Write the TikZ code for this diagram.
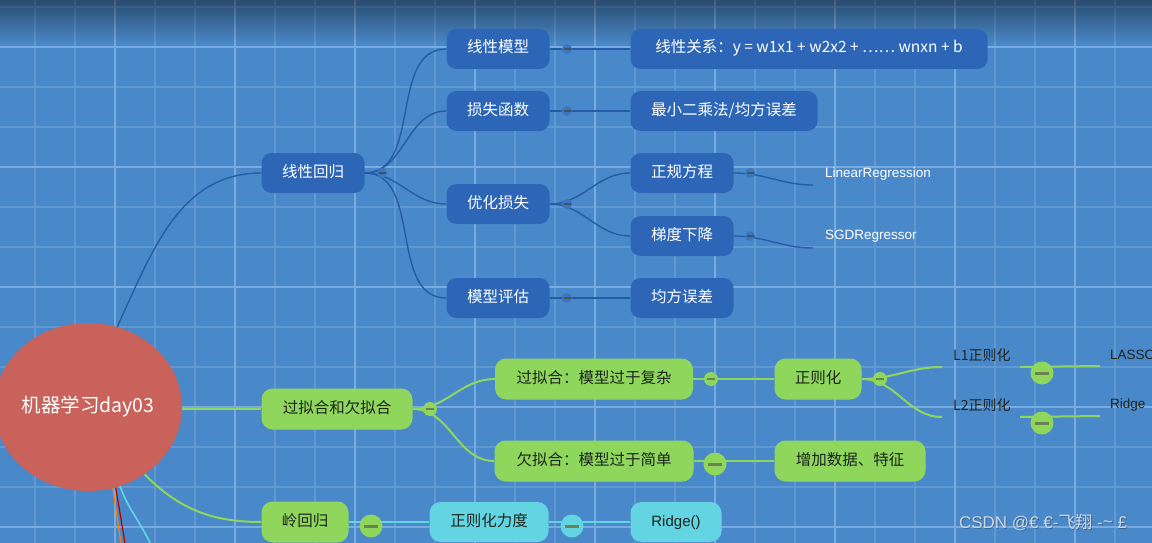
\documentclass[tikz,border=0pt]{standalone}
\usepackage{fontspec}
\setmainfont{Noto Sans CJK SC}
\newfontfamily\lat{Liberation Sans}
\usetikzlibrary{shapes.geometric}
\definecolor{bg}{RGB}{74,137,201}
\definecolor{gridminor}{RGB}{96,152,210}
\definecolor{gridmajor}{RGB}{120,172,224}
\definecolor{nblue}{RGB}{45,102,182}
\definecolor{lblue}{RGB}{38,92,165}
\definecolor{mblue}{RGB}{60,118,192}
\definecolor{ngreen}{RGB}{142,214,92}
\definecolor{ncyan}{RGB}{98,212,226}
\definecolor{rootred}{RGB}{200,98,90}
\definecolor{txtdark}{RGB}{30,36,30}
\definecolor{dashg}{RGB}{108,130,80}
\definecolor{dashb}{RGB}{70,80,95}
\definecolor{wm}{RGB}{205,215,225}
\begin{document}
\begin{tikzpicture}[x=1pt,y=-1pt,
  nfont/.style={font=\fontsize{15.5}{17}\selectfont, text height=11pt, text depth=3pt},
  bnode/.style={rounded corners=10pt, fill=nblue, text=white, minimum height=40pt, inner sep=0pt, nfont},
  gnode/.style={rounded corners=11pt, fill=ngreen, text=txtdark, minimum height=41pt, inner sep=0pt, nfont},
  cnode/.style={rounded corners=11pt, fill=ncyan, text=txtdark, minimum height=40pt, inner sep=0pt, nfont},
  leafw/.style={text=white, inner sep=0pt, font=\lat\fontsize{13.5}{15}\selectfont},
  leafd/.style={text=txtdark, inner sep=0pt, font=\fontsize{14}{15}\selectfont},
  bline/.style={draw=lblue, line width=1.4pt},
  gline/.style={draw=ngreen, line width=2pt},
  cline/.style={draw=ncyan, line width=2pt},
  bmark/.style={circle, fill=mblue, minimum size=10pt, inner sep=0pt,
    path picture={\draw[dashb, line width=1.6pt] ([xshift=-3.5pt]path picture bounding box.center) -- ([xshift=3.5pt]path picture bounding box.center);}},
  gmarks/.style={circle, fill=ngreen, minimum size=14pt, inner sep=0pt,
    path picture={\draw[dashg, line width=2pt] ([xshift=-4pt]path picture bounding box.center) -- ([xshift=4pt]path picture bounding box.center);}},
  gmarkl/.style={circle, fill=ngreen, minimum size=23pt, inner sep=0pt,
    path picture={\draw[dashg, line width=3pt] ([xshift=-7pt]path picture bounding box.center) -- ([xshift=7pt]path picture bounding box.center);}},
  cmarkl/.style={circle, fill=ncyan, minimum size=23pt, inner sep=0pt,
    path picture={\draw[dashg, line width=3pt] ([xshift=-7pt]path picture bounding box.center) -- ([xshift=7pt]path picture bounding box.center);}},
]
\useasboundingbox (0,0) rectangle (1152,543);
% background
\fill[bg] (0,0) rectangle (1152,543);
\foreach \k in {0,...,28} {\draw[gridminor, line width=1.1pt] (35+40*\k,0) -- (35+40*\k,543);}
\foreach \k in {0,...,13} {\draw[gridminor, line width=1.1pt] (0,7+40*\k) -- (1152,7+40*\k);}
\foreach \k in {0,...,9} {\draw[gridmajor, line width=1.5pt] (115+120*\k,0) -- (115+120*\k,543);}
\foreach \k in {0,...,4} {\draw[gridmajor, line width=1.5pt] (0,47+120*\k) -- (1152,47+120*\k);}
\foreach \i in {0,...,21} {\fill[black, opacity=0.02*(22-\i)] (0,2*\i) rectangle (1152,2*\i+2);}

% nodes
\node[ellipse, fill=rootred, minimum width=186pt, minimum height=168pt, inner sep=0pt, text=white, font=\fontsize{19.5}{21}\selectfont] (root) at (88,407) {机器学习day03};

\node[bnode, minimum width=103pt] (xxhg) at (313,173) {线性回归};
\node[bnode, minimum width=103pt] (xxmx) at (498,49) {线性模型};
\node[bnode, minimum width=357pt] (xxgx) at (809,49) {线性关系：y = w1x1 + w2x2 + …… wnxn + b};
\node[bnode, minimum width=103pt] (sshs) at (498,111) {损失函数};
\node[bnode, minimum width=187pt] (zxec) at (724,111) {最小二乘法/均方误差};
\node[bnode, minimum width=103pt] (yhss) at (498,204) {优化损失};
\node[bnode, minimum width=103pt] (zgfc) at (682,173) {正规方程};
\node[bnode, minimum width=103pt] (tdxj) at (682,236) {梯度下降};
\node[leafw, anchor=west] (lr) at (825,174) {LinearRegression};
\node[leafw, anchor=west] (sgd) at (825,236) {SGDRegressor};
\node[bnode, minimum width=103pt] (mxpg) at (498,298) {模型评估};
\node[bnode, minimum width=103pt] (jfwc) at (682,298) {均方误差};

\node[gnode, minimum width=151pt] (gnh) at (337,409) {过拟合和欠拟合};
\node[gnode, minimum width=198pt] (gnhf) at (594,379) {过拟合：模型过于复杂};
\node[gnode, minimum width=87pt] (zzh) at (818,379) {正则化};
\node[leafd, anchor=west] (l1) at (953,355) {L1正则化};
\node[leafd, anchor=west] (l2) at (953,405) {L2正则化};
\node[leafd, anchor=west, font=\lat\fontsize{13.5}{15}\selectfont] (lasso) at (1110,355) {LASSO};
\node[leafd, anchor=west, font=\lat\fontsize{13.5}{15}\selectfont] (ridge) at (1110,405) {Ridge};
\node[gnode, minimum width=199pt] (qnh) at (594,461) {欠拟合：模型过于简单};
\node[gnode, minimum width=151pt] (zjsj) at (850,461) {增加数据、特征};
\node[gnode, minimum width=87pt] (lhg) at (305,522) {岭回归};
\node[cnode, minimum width=119pt] (zzld) at (489,522) {正则化力度};
\node[cnode, minimum width=91pt, font=\lat\fontsize{15}{17}\selectfont] (ridgef) at (676,522) {Ridge()};

% free ends
\coordinate (lre) at (813,185);
\coordinate (sgde) at (813,248);
\coordinate (l1e) at (942,367);
\coordinate (l2e) at (942,417);
\coordinate (l1s) at (1020,367);
\coordinate (l1t) at (1100,366);
\coordinate (l2s) at (1020,417);
\coordinate (l2t) at (1100,416);
\coordinate (d1) at (121,543);
\coordinate (d2) at (125,543);
\coordinate (d3) at (150,543);

% connectors
\draw[bline] (root.70) to[out=65,in=180] (xxhg.west);
\draw[bline] (xxhg.east) to[out=0,in=180] (xxmx.west);
\draw[bline] (xxhg.east) to[out=0,in=180] (sshs.west);
\draw[bline] (xxhg.east) to[out=0,in=180] (yhss.west);
\draw[bline] (xxhg.east) to[out=0,in=180] (mxpg.west);
\draw[bline] (xxmx.east) to[out=0,in=180] (xxgx.west);
\draw[bline] (sshs.east) to[out=0,in=180] (zxec.west);
\draw[bline] (yhss.east) to[out=0,in=180] (zgfc.west);
\draw[bline] (yhss.east) to[out=0,in=180] (tdxj.west);
\draw[bline] (mxpg.east) to[out=0,in=180] (jfwc.west);
\draw[bline] (zgfc.east) to[out=0,in=180] (lre);
\draw[bline] (tdxj.east) to[out=0,in=180] (sgde);

\draw[gline] (root.east |- gnh.west) -- (gnh.west);
\draw[gline] (gnh.east) to[out=0,in=180] (gnhf.west);
\draw[gline] (gnh.east) to[out=0,in=180] (qnh.west);
\draw[gline] (gnhf.east) -- (zzh.west);
\draw[gline] (zzh.east) to[out=0,in=180] (l1e);
\draw[gline] (zzh.east) to[out=0,in=180] (l2e);
\draw[gline] (l1s) -- (l1t);
\draw[gline] (l2s) -- (l2t);
\draw[gline] (qnh.east) -- (zjsj.west);
\draw[gline] (root.-50) to[out=-45,in=180] (lhg.west);
\draw[cline] (lhg.east) -- (zzld.west);
\draw[cline] (zzld.east) -- (ridgef.west);

\draw[draw=orange, line width=1.2pt] (root.-73) -- (d1);
\draw[draw=red!70!black, line width=1.2pt] (root.-71) -- (d2);
\draw[cline, line width=1.6pt] (root.-68) to[out=-70,in=115] (d3);

% markers
\node[bmark] (m1) at (382,173) {};
\node[bmark] (m2) at (567,49) {};
\node[bmark] (m3) at (567,111) {};
\node[bmark] (m4) at (567,204) {};
\node[bmark] (m5) at (567,298) {};
\node[bmark] (m6) at (750,173) {};
\node[bmark] (m7) at (750,236) {};
\node[gmarks] (m8) at (430,409) {};
\node[gmarks] (m9) at (711,379) {};
\node[gmarks] (m10) at (880,379) {};
\node[gmarkl] (m11) at (715,464) {};
\node[gmarkl] (m12) at (1042,373) {};
\node[gmarkl] (m13) at (1042,423) {};
\node[gmarkl] (m14) at (371,526) {};
\node[cmarkl] (m15) at (572,526) {};

% watermark
\node[text=black, opacity=0.25, font=\lat\fontsize{17}{19}\selectfont] (wms) at (1044,524) {CSDN @€ €-{\fontspec{Noto Sans CJK SC}飞翔} -\raisebox{0.2ex}{\char"007E} £};
\node[text=wm, font=\lat\fontsize{17}{19}\selectfont] (wmt) at (1043,523) {CSDN @€ €-{\fontspec{Noto Sans CJK SC}飞翔} -\raisebox{0.2ex}{\char"007E} £};
\end{tikzpicture}
\end{document}
